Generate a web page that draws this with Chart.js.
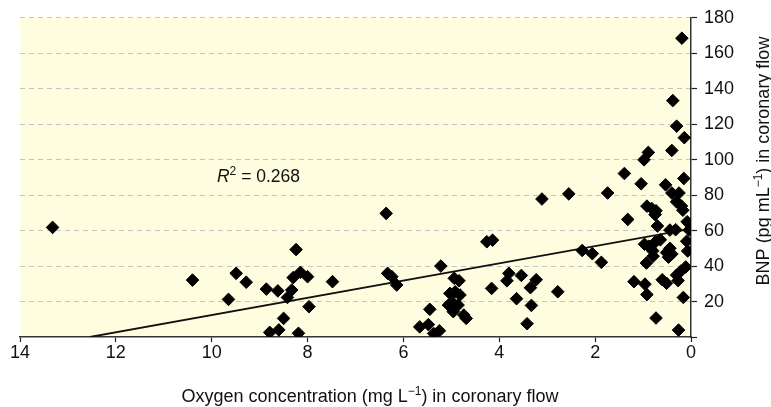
<!DOCTYPE html>
<html><head><meta charset="utf-8">
<script src="https://cdn.jsdelivr.net/npm/chart.js@4/dist/chart.umd.min.js"></script>
<style>html,body{margin:0;padding:0;background:#fff}canvas{display:block}</style>
</head><body>
<canvas id="c" width="771" height="407"></canvas>
<script>
// Oxygen concentration (mg L−1) in coronary flow
const oxygen = [
  13.32, 10.40, 9.49, 9.28, 9.65, 8.86, 8.62, 8.24, 8.30, 8.15, 8.00, 8.33, 8.42, 7.48, 7.97, 8.50, 8.60, 8.79, 8.19,
  6.36, 6.33, 6.24, 6.14, 5.22, 5.45, 5.66, 5.48, 5.37, 5.25,
  4.94, 4.84, 5.03, 4.92, 4.82, 5.06, 4.96, 4.86, 4.96, 4.74, 4.69,
  4.26, 4.14, 4.16, 3.80, 3.84, 3.54, 3.64, 3.35, 3.23, 3.33, 3.42, 3.11, 2.78, 2.55, 2.27, 2.06, 1.87, 1.74,
  0.19, 0.38, 0.30, 0.14, 0.40, 0.89, 0.98, 1.39, 1.04, 0.53, 0.15, 0.40, 0.25, 0.30, 0.20, 0.17,
  0.92, 0.82, 0.73, 0.75, 1.32, 0.70, 0.44, 0.32, 0.08, 0.04,
  0.97, 0.88, 0.74, 0.64, 0.80, 0.79, 0.44, 0.51, 0.40, 0.47, 0.09, 0.07,
  0.93, 0.11, 0.21, 0.30, 0.27, 0.60, 0.51, 1.19, 0.96, 0.92, 0.16, 0.73, 0.26
];
// BNP (pg mL−1) in coronary flow
const bnp = [
  61.8, 32.1, 35.9, 30.9, 21.2, 27.0, 26.0, 49.3, 33.5, 36.5, 34.0, 26.5, 22.3, 31.2, 17.1, 10.5, 4.0, 2.6, 2.1,
  69.7, 35.9, 34.0, 29.3, 40.0, 15.6, 5.7, 7.0, 2.0, 3.5,
  33.1, 31.7, 24.6, 25.5, 23.7, 18.0, 19.0, 18.0, 14.3, 12.4, 10.5,
  53.7, 54.6, 27.4, 35.9, 31.7, 34.7, 21.6, 27.8, 32.3, 17.8, 7.5, 77.8, 25.5, 80.7, 48.8, 47.0, 42.1, 81.2,
  168.5, 133.3, 118.9, 112.4, 105.2, 104.1, 99.9, 92.2, 86.4, 85.8, 89.4, 81.2, 81.2, 76.2, 73.9, 71.5,
  73.8, 72.5, 71.2, 69.0, 66.3, 62.6, 60.3, 60.5, 65.0, 60.3,
  52.3, 51.2, 53.7, 54.8, 48.6, 45.6, 50.0, 47.6, 46.8, 45.0, 54.0, 48.5,
  41.7, 39.5, 37.2, 34.9, 31.8, 32.3, 30.3, 31.2, 29.8, 23.9, 22.3, 10.7, 3.9
];
// Regression line end points
const fitOxygen = [12.54, 0];
const fitBnp = [0, 61];
// Tick values
const xTicks = [14, 12, 10, 8, 6, 4, 2, 0];
const yTicks = [0, 20, 40, 60, 80, 100, 120, 140, 160, 180];
// Texts
const xTitle = [{t: 'Oxygen concentration (mg L'}, {t: '\u22121', sup: true}, {t: ') in coronary flow'}];
const yTitle = [{t: 'BNP (pg mL'}, {t: '\u22121', sup: true}, {t: ') in coronary flow'}];
const r2Text = [{t: 'R', italic: true}, {t: '2', sup: true}, {t: ' = 0.268'}];
const r2At = {x: 9.89, y: 90.7};

const FAM = '"Liberation Sans", Arial, sans-serif';

function drawParts(ctx, parts, size, x, y, align) {
  const fontFor = p => (p.italic ? 'italic ' : '') + (p.sup ? Math.round(size * 0.68) : size) + 'px ' + FAM;
  let total = 0;
  parts.forEach(p => { ctx.font = fontFor(p); p.w = ctx.measureText(p.t).width; total += p.w; });
  let cx = align === 'center' ? x - total / 2 : x;
  ctx.textBaseline = 'alphabetic';
  ctx.textAlign = 'left';
  parts.forEach(p => {
    ctx.font = fontFor(p);
    ctx.fillText(p.t, cx, p.sup ? y - size * 0.4 : y);
    cx += p.w;
  });
}

const bgPlugin = {
  id: 'bg',
  beforeDraw(chart) {
    const {ctx, chartArea: a} = chart;
    ctx.save();
    ctx.fillStyle = '#FFFDE0';
    ctx.fillRect(a.left, a.top, a.right - a.left, a.bottom - a.top);
    ctx.restore();
  }
};

const textPlugin = {
  id: 'texts',
  afterDraw(chart) {
    const ctx = chart.ctx;
    const xs = chart.scales.x, ys = chart.scales.y;
    ctx.save();
    ctx.fillStyle = '#111';
    drawParts(ctx, r2Text, 17.5, xs.getPixelForValue(r2At.x), ys.getPixelForValue(r2At.y) + 6, 'left');
    drawParts(ctx, xTitle, 18, 370, 402, 'center');
    ctx.translate(769, 161);
    ctx.rotate(-Math.PI / 2);
    drawParts(ctx, yTitle, 18, 0, 0, 'center');
    ctx.restore();
  }
};

new Chart(document.getElementById('c').getContext('2d'), {
  type: 'scatter',
  data: {
    datasets: [
      {
        data: oxygen.map((x, i) => ({x: x, y: bnp[i]})),
        pointStyle: 'rectRot', pointRadius: 6.3, backgroundColor: '#000', borderColor: '#000', borderWidth: 1, order: 1
      },
      {
        type: 'line',
        data: fitOxygen.map((x, i) => ({x: x, y: fitBnp[i]})),
        borderColor: '#111', borderWidth: 1.8, pointRadius: 0, fill: false, order: 2
      }
    ]
  },
  options: {
    responsive: false, animation: false, devicePixelRatio: 1, events: [],
    plugins: {legend: {display: false}, tooltip: {enabled: false}},
    layout: {padding: {left: 20, top: 17, right: 0, bottom: 0}},
    scales: {
      x: {
        type: 'linear', min: 0, max: 14, reverse: true, position: 'bottom',
        afterFit: s => { s.height = 70; },
        afterBuildTicks: s => { s.ticks = xTicks.map(v => ({value: v})); },
        grid: {drawOnChartArea: false, drawTicks: true, tickLength: 5, tickColor: '#222', tickWidth: 1.2, tickBorderDash: []},
        border: {display: true, color: '#333', width: 1.5},
        ticks: {font: {family: FAM, size: 18, lineHeight: 1}, color: '#111', padding: 2, maxRotation: 0}
      },
      y: {
        type: 'linear', min: 0, max: 180, position: 'right',
        afterFit: s => { s.width = 80; },
        afterBuildTicks: s => { s.ticks = yTicks.map(v => ({value: v})); },
        grid: {
          color: c => (c.tick && c.tick.value === 0) ? 'rgba(0,0,0,0)' : '#c4c4c4',
          lineWidth: 1, tickLength: 6, tickColor: '#222', tickWidth: 1.2, tickBorderDash: []
        },
        border: {display: true, color: '#333', width: 1.5, dash: [5, 4]},
        ticks: {font: {family: FAM, size: 18}, color: '#111', padding: 7, callback: v => v === 0 ? '' : v}
      }
    }
  },
  plugins: [bgPlugin, textPlugin]
});
</script>
</body></html>
